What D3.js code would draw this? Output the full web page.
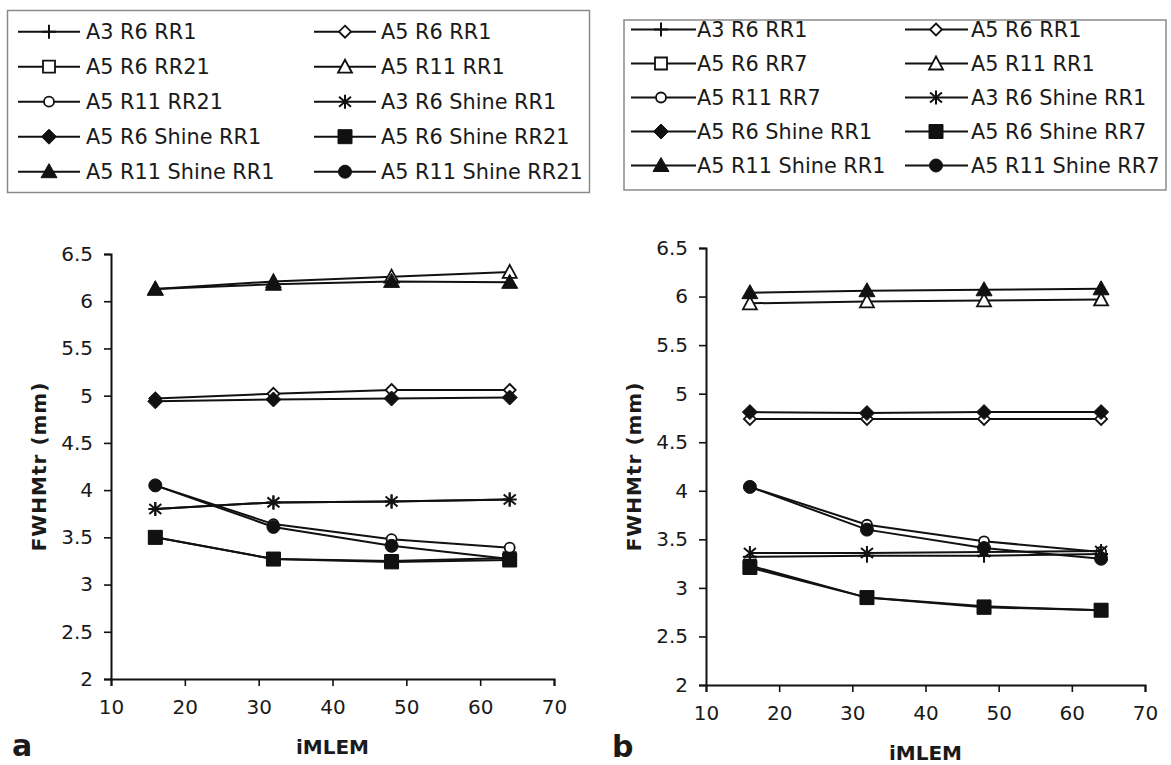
<!DOCTYPE html>
<html><head><meta charset="utf-8">
<script src="https://cdn.jsdelivr.net/npm/d3@7"></script>
<style>body{margin:0;background:#fff}svg{display:block}text{font-family:"DejaVu Sans",Verdana,sans-serif;fill:#1a1a1a}</style>
</head><body>
<svg id="chart" width="1171" height="765"></svg>
<script>
const iterations = [16, 32, 48, 64];
const xTicks = [10, 20, 30, 40, 50, 60, 70];
const yTicks = [2, 2.5, 3, 3.5, 4, 4.5, 5, 5.5, 6, 6.5];
const markers = ['plus', 'diamondOpen', 'squareOpen', 'triangleOpen', 'circleOpen', 'star', 'diamond', 'square', 'triangle', 'circle'];
const seriesA = ['A3 R6 RR1', 'A5 R6 RR1', 'A5 R6 RR21', 'A5 R11 RR1', 'A5 R11 RR21', 'A3 R6 Shine RR1', 'A5 R6 Shine RR1', 'A5 R6 Shine RR21', 'A5 R11 Shine RR1', 'A5 R11 Shine RR21'];
const seriesB = ['A3 R6 RR1', 'A5 R6 RR1', 'A5 R6 RR7', 'A5 R11 RR1', 'A5 R11 RR7', 'A3 R6 Shine RR1', 'A5 R6 Shine RR1', 'A5 R6 Shine RR7', 'A5 R11 Shine RR1', 'A5 R11 Shine RR7'];
const valuesA = [
  [3.80, 3.87, 3.88, 3.90],
  [4.97, 5.02, 5.06, 5.06],
  [3.50, 3.27, 3.25, 3.28],
  [6.13, 6.21, 6.26, 6.31],
  [4.05, 3.64, 3.48, 3.39],
  [3.80, 3.87, 3.88, 3.90],
  [4.94, 4.96, 4.97, 4.98],
  [3.50, 3.27, 3.24, 3.26],
  [6.13, 6.18, 6.21, 6.20],
  [4.05, 3.61, 3.41, 3.27]
];
const valuesB = [
  [3.32, 3.33, 3.33, 3.35],
  [4.74, 4.74, 4.74, 4.74],
  [3.23, 2.90, 2.81, 2.77],
  [5.93, 5.95, 5.96, 5.97],
  [4.04, 3.65, 3.48, 3.37],
  [3.36, 3.36, 3.37, 3.38],
  [4.81, 4.80, 4.81, 4.81],
  [3.21, 2.90, 2.80, 2.77],
  [6.04, 6.06, 6.07, 6.08],
  [4.04, 3.60, 3.41, 3.30]
];

const svg = d3.select('#chart');
const INK = '#111';

function markerPath(type) {
  switch (type) {
    case 'plus': return 'M0,-7L0,7M-7,0L7,0';
    case 'star': return 'M0,-7L0,7M-6,-5L6,5M-6,5L6,-5';
    case 'diamond': return 'M0,-7.5L7.5,0L0,7.5L-7.5,0Z';
    case 'diamondOpen': return 'M0,-6L6,0L0,6L-6,0Z';
    case 'square': return 'M-7,-7H7V7H-7Z';
    case 'squareOpen': return 'M-6,-6H6V6H-6Z';
    case 'triangle': return 'M0,-8L8,6L-8,6Z';
    case 'triangleOpen': return 'M0,-7L7,6L-7,6Z';
    case 'circle': return d3.arc()({innerRadius: 0, outerRadius: 6.5, startAngle: 0, endAngle: 2 * Math.PI});
    case 'circleOpen': return d3.arc()({innerRadius: 0, outerRadius: 5, startAngle: 0, endAngle: 2 * Math.PI});
  }
}
function drawMarker(g, type, x, y) {
  const open = type.endsWith('Open');
  const lineOnly = type === 'plus' || type === 'star';
  g.append('path')
    .attr('d', markerPath(type))
    .attr('transform', `translate(${x},${y})`)
    .attr('fill', lineOnly ? 'none' : (open ? '#fff' : INK))
    .attr('stroke', INK)
    .attr('stroke-width', lineOnly ? 2 : (open ? 1.8 : 1));
}

const panels = [
  {x0: 111, x1: 554, yTop: 254, yBot: 679, values: valuesA, names: seriesA, letter: 'a', letterX: 12, letterY: 756,
   titleX: 39, xTitleY: 754,
   legend: {x: 7.5, y: 10.5, w: 582, h: 182, row0: 31.7, rowH: 35, cols: [{l0: 18, l1: 80, m: 49, t: 86}, {l0: 314, l1: 376, m: 345, t: 381}]}},
  {x0: 706, x1: 1145, yTop: 248, yBot: 685, values: valuesB, names: seriesB, letter: 'b', letterX: 612, letterY: 757,
   titleX: 634, xTitleY: 760,
   legend: {x: 624, y: 20, w: 542, h: 170, row0: 29.5, rowH: 34, cols: [{l0: 631, l1: 696, m: 661, t: 697}, {l0: 905, l1: 968, m: 936, t: 971}]}}
];

panels.forEach(p => {
  const x = d3.scaleLinear().domain([10, 70]).range([p.x0, p.x1]);
  const y = d3.scaleLinear().domain([2, 6.5]).range([p.yBot, p.yTop]);
  const g = svg.append('g');

  const ya = g.append('g').attr('transform', `translate(${p.x0},0)`)
    .call(d3.axisLeft(y).tickValues(yTicks).tickSize(7).tickPadding(11).tickFormat(d3.format('')));
  ya.select('.domain').attr('stroke', INK).attr('stroke-width', 2);
  ya.selectAll('.tick line').attr('stroke', INK).attr('stroke-width', 1.6);
  ya.selectAll('.tick text').style('font-size', '20px').style('font-family', '"DejaVu Sans",sans-serif').attr('fill', '#1a1a1a');

  const xa = g.append('g').attr('transform', `translate(0,${p.yBot})`)
    .call(d3.axisBottom(x).tickValues(xTicks).tickSize(7).tickPadding(14));
  xa.select('.domain').attr('stroke', INK).attr('stroke-width', 2);
  xa.selectAll('.tick line').attr('stroke', INK).attr('stroke-width', 1.6);
  xa.selectAll('.tick text').style('font-size', '20px').style('font-family', '"DejaVu Sans",sans-serif').attr('fill', '#1a1a1a');

  g.append('text').attr('transform', `translate(${p.titleX},${(p.yTop + p.yBot) / 2}) rotate(-90)`)
    .attr('text-anchor', 'middle').attr('dy', '0.35em')
    .style('font-size', '20px').style('font-weight', 'bold').style('letter-spacing', '1px').text('FWHMtr (mm)');
  g.append('text').attr('x', (p.x0 + p.x1) / 2).attr('y', p.xTitleY)
    .attr('text-anchor', 'middle').style('font-size', '20px').style('font-weight', 'bold').text('iMLEM');
  g.append('text').attr('x', p.letterX).attr('y', p.letterY)
    .style('font-size', '30px').style('font-weight', 'bold').text(p.letter);

  const line = d3.line().x((d, i) => x(iterations[i])).y(d => y(d));
  p.values.forEach((vals, si) => {
    const sg = g.append('g');
    sg.append('path').attr('d', line(vals)).attr('fill', 'none').attr('stroke', INK).attr('stroke-width', 2);
    vals.forEach((v, i) => drawMarker(sg, markers[si], x(iterations[i]), y(v)));
  });

  const L = p.legend;
  const lg = svg.append('g');
  lg.append('rect').attr('x', L.x).attr('y', L.y).attr('width', L.w).attr('height', L.h)
    .attr('fill', '#fff').attr('stroke', '#8a8a8a').attr('stroke-width', 1.5);
  p.names.forEach((name, i) => {
    const col = L.cols[i % 2];
    const ry = L.row0 + Math.floor(i / 2) * L.rowH;
    lg.append('line').attr('x1', col.l0).attr('x2', col.l1).attr('y1', ry).attr('y2', ry)
      .attr('stroke', INK).attr('stroke-width', 2);
    drawMarker(lg, markers[i], col.m, ry);
    lg.append('text').attr('x', col.t).attr('y', ry).attr('dy', '0.36em')
      .style('font-size', '20.8px').text(name);
  });
});
</script>
</body></html>
